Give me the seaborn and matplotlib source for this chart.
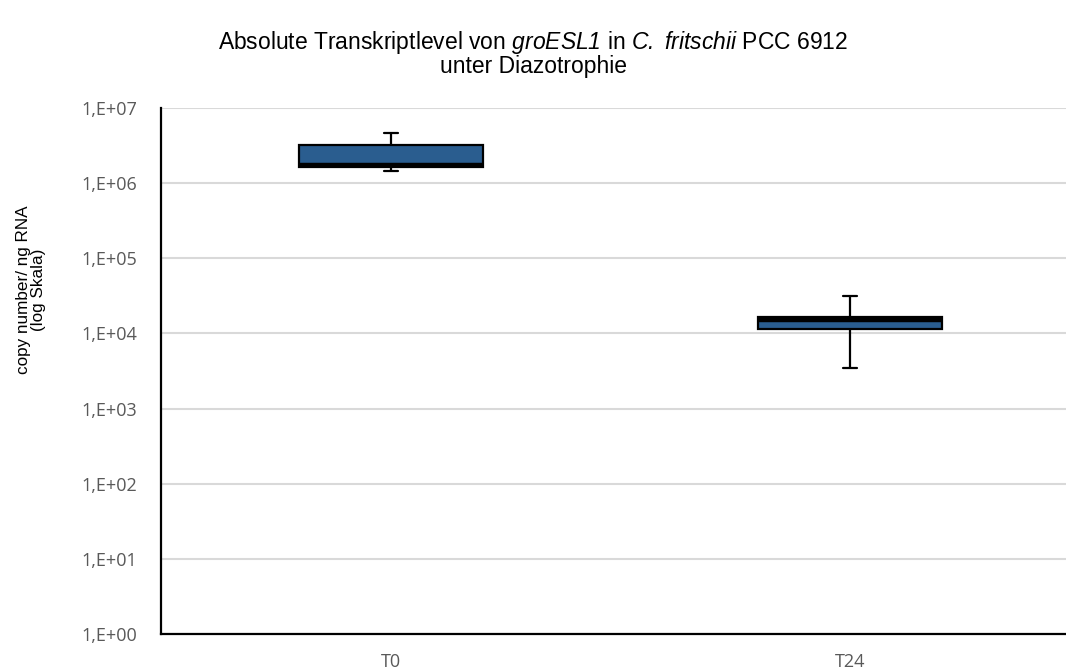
import pandas as pd
import numpy as np
import matplotlib.pyplot as plt
import seaborn as sns

# Werte (min, Q1, Median, Q3, max)
zeitpunkte = ["T0", "T24"]
werte_t0 = [1.45e6, 1.64e6, 1.74e6, 3.22e6, 4.65e6]
werte_t24 = [3.5e3, 1.16e4, 1.53e4, 1.66e4, 3.15e4]
y_ticks = [1e0, 1e1, 1e2, 1e3, 1e4, 1e5, 1e6, 1e7]
y_tick_labels = ["1,E+00", "1,E+01", "1,E+02", "1,E+03", "1,E+04", "1,E+05", "1,E+06", "1,E+07"]

df = pd.DataFrame({
    "zeitpunkt": ["T0"] * len(werte_t0) + ["T24"] * len(werte_t24),
    "kopien": werte_t0 + werte_t24,
})

sns.set_style("white")
plt.rcParams["font.family"] = ["Liberation Sans", "DejaVu Sans"]
plt.rcParams["text.color"] = "black"
plt.rcParams["axes.labelcolor"] = "black"
# kursive Teile im Titel ueber mathtext
plt.rcParams["mathtext.fontset"] = "custom"
plt.rcParams["mathtext.rm"] = "Liberation Sans:italic"
plt.rcParams["mathtext.it"] = "Liberation Sans:italic"

fig = plt.figure(figsize=(10.66, 6.71), dpi=100)
ax = fig.add_axes([161 / 1066, 37 / 671, 919 / 1066, 526 / 671])

sns.boxplot(
    data=df, x="zeitpunkt", y="kopien", order=zeitpunkte, ax=ax,
    log_scale=True, whis=(0, 100), width=0.4, color="#2A5D8F", saturation=1,
    linecolor="black", linewidth=1.6,
    medianprops={"color": "black", "linewidth": 3.2},
    capwidths=0.03, zorder=3,
)

ax.set_ylim(1e0, 1e7)
ax.set_xlim(-0.5, 1.5)
ax.set_yticks(y_ticks)
ax.set_yticklabels(y_tick_labels, family="Open Sans", fontsize=13, color="#595959")
ax.minorticks_off()
for lab in ax.get_xticklabels():
    lab.set_family("Open Sans")
    lab.set_fontsize(13)
    lab.set_color("#595959")
ax.tick_params(axis="y", length=0, pad=17)
ax.tick_params(axis="x", length=0, pad=14)

ax.grid(axis="y", color="#D9D9D9", linewidth=1.5, zorder=0)
ax.set_axisbelow(True)
for s in ["top", "right"]:
    ax.spines[s].set_visible(False)
for s in ["left", "bottom"]:
    ax.spines[s].set_color("black")
    ax.spines[s].set_linewidth(1.6)

ax.set_xlabel("")
ax.set_ylabel("copy number/ ng RNA\n(log Skala)", fontsize=12.3, linespacing=1.0)
ax.yaxis.set_label_coords(-0.125, 0.654)

fig.text(
    0.5, 1 - 42 / 671,
    r"Absolute Transkriptlevel von $groESL1$ in $C.$ $fritschii$ PCC 6912",
    ha="center", va="center", fontsize=16.5,
)
fig.text(0.5, 1 - 66 / 671, "unter Diazotrophie",
         ha="center", va="center", fontsize=16.5)

fig.savefig("out.png", dpi=100)
